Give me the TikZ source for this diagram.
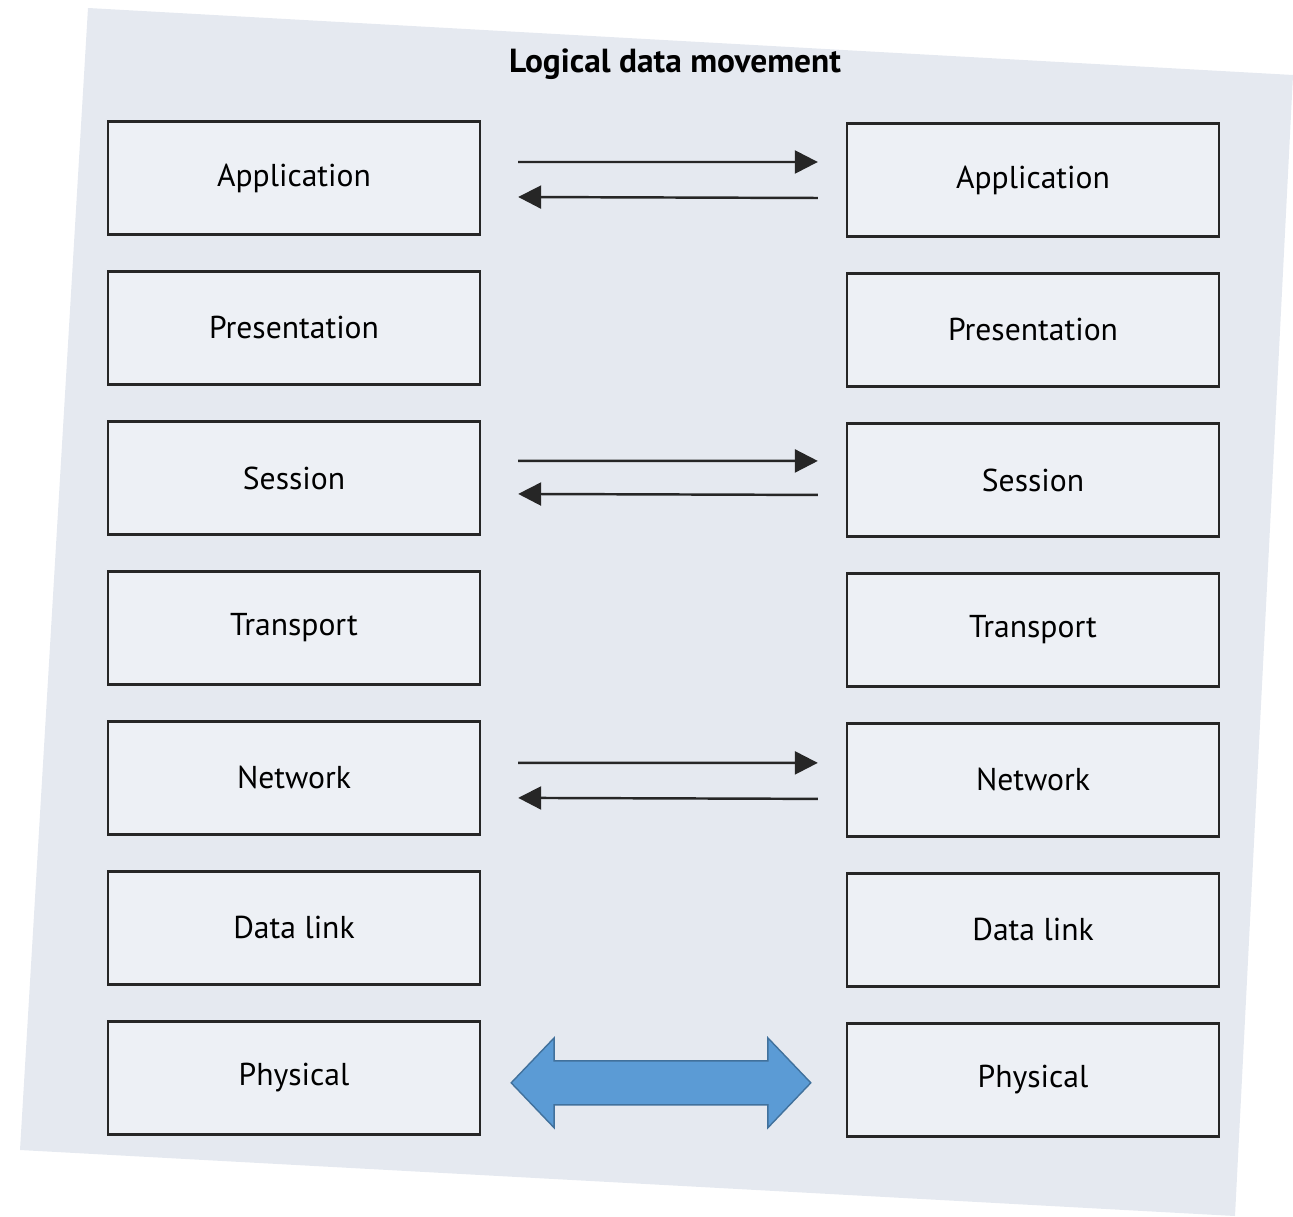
\documentclass[tikz,border=0pt]{standalone}
\usepackage{fontspec}
\setsansfont{PT Sans}
\usetikzlibrary{arrows.meta, calc}
\definecolor{paper}{RGB}{229,233,240}
\definecolor{boxfill}{RGB}{237,240,245}
\definecolor{bigblue}{RGB}{91,155,213}
\definecolor{bigedge}{RGB}{65,113,156}
\tikzstyle{layer} = [rectangle, minimum width=7.44cm, minimum height=2.26cm, text centered, draw=black!85, line width=1.4pt, fill=boxfill, font=\sffamily\fontsize{18}{21}\selectfont]
\tikzstyle{arrow} = [line width=1.4pt, draw=black!85, -{Triangle[length=0.46cm, width=0.46cm]}]
\tikzstyle{bigarrow} = [fill=bigblue, draw=bigedge, line width=0.8pt, line join=miter]

\begin{document}
\begin{tikzpicture}[x=0.02cm, y=-0.02cm, node distance=3cm]
	\useasboundingbox (0,0) rectangle (1293,1216);
	% scanned page
	\fill [paper] (88,8) -- (1293,75) -- (1235,1216) -- (20,1150) -- cycle;

	\node (T) [font=\sffamily\bfseries\fontsize{19}{22}\selectfont] at (675,64) {Logical data movement};

	\node (L1) [layer] at (294,178) {Application};
	\node (L2) [layer, below of = L1] {Presentation};
	\node (L3) [layer, below of = L2] {Session};
	\node (L4) [layer, below of = L3] {Transport};
	\node (L5) [layer, below of = L4] {Network};
	\node (L6) [layer, below of = L5] {Data link};
	\node (L7) [layer, below of = L6] {Physical};

	\node (R1) [layer] at (1033,180) {Application};
	\node (R2) [layer, below of = R1] {Presentation};
	\node (R3) [layer, below of = R2] {Session};
	\node (R4) [layer, below of = R3] {Transport};
	\node (R5) [layer, below of = R4] {Network};
	\node (R6) [layer, below of = R5] {Data link};
	\node (R7) [layer, below of = R6] {Physical};

		\draw [arrow] ([xshift=0.74cm, yshift=0.32cm]L1.east) -- ([xshift=-0.56cm, yshift=0.36cm]R1.west);
		\draw [arrow] ([xshift=-0.56cm, yshift=-0.36cm]R1.west) -- ([xshift=0.74cm, yshift=-0.38cm]L1.east);
		\draw [arrow] ([xshift=0.74cm, yshift=0.34cm]L3.east) -- ([xshift=-0.56cm, yshift=0.38cm]R3.west);
		\draw [arrow] ([xshift=-0.56cm, yshift=-0.3cm]R3.west) -- ([xshift=0.74cm, yshift=-0.32cm]L3.east);
		\draw [arrow] ([xshift=0.74cm, yshift=0.3cm]L5.east) -- ([xshift=-0.56cm, yshift=0.34cm]R5.west);
		\draw [arrow] ([xshift=-0.56cm, yshift=-0.38cm]R5.west) -- ([xshift=0.74cm, yshift=-0.4cm]L5.east);

	% physical link
	\coordinate (pl) at ([xshift=0.6cm, yshift=-0.1cm]L7.east);
	\coordinate (pr) at ($(pl -| R7.west)+(-35,0)$);
		\filldraw [bigarrow] (pl) -- ++(43,-45) -- ++(0,23) -- ($(pr)+(-43,-22)$) -- ++(0,-23) -- (pr)
			-- ++(-43,45) -- ++(0,-23) -- ($(pl)+(43,22)$) -- ++(0,23) -- cycle;
\end{tikzpicture}
\end{document}
